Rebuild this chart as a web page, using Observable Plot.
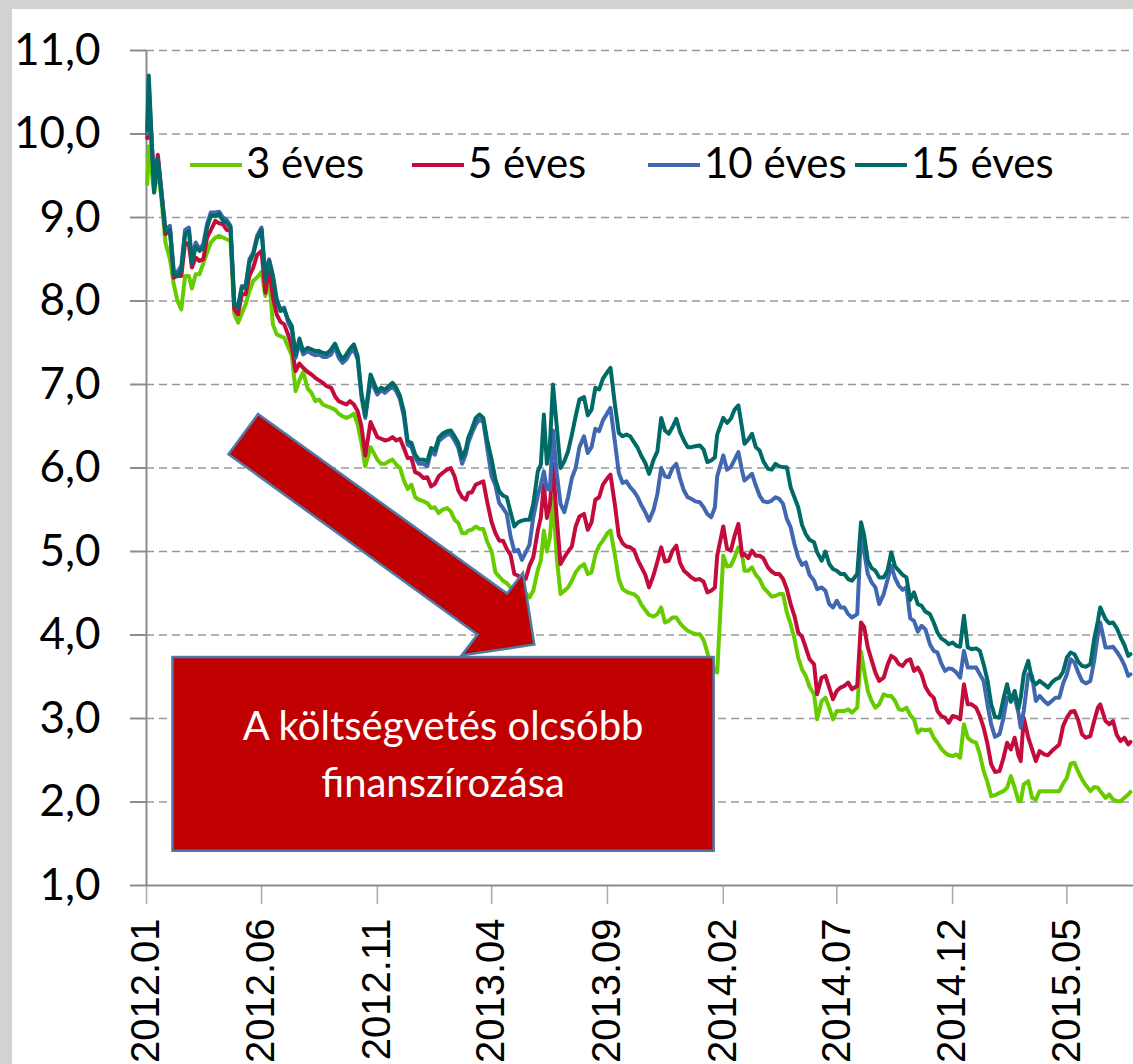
<!DOCTYPE html>
<html><head><meta charset="utf-8">
<script src="https://cdn.jsdelivr.net/npm/d3@7"></script>
<script src="https://cdn.jsdelivr.net/npm/@observablehq/plot@0.6"></script>
<style>
html,body{margin:0;padding:0;}
body{width:1133px;height:1064px;background:#d4d1d1;position:relative;overflow:hidden;}
#paper{position:absolute;left:12px;top:9px;right:0;bottom:0;background:#fff;}
#chart{position:absolute;left:0;top:0;}
</style></head><body>
<div id="paper"></div>
<div id="chart"></div>
<script>
// main sampling (1st, 11th, 21st of each month + turning points)
const dates = ["2012-01-02","2012-01-04","2012-01-11","2012-01-16","2012-01-21","2012-02-01","2012-02-11","2012-02-21","2012-03-01","2012-03-11","2012-03-21","2012-04-01","2012-04-11","2012-04-21","2012-04-26","2012-05-01","2012-05-11","2012-05-21","2012-06-01","2012-06-11","2012-06-21","2012-07-01","2012-07-11","2012-07-21","2012-08-01","2012-08-11","2012-08-21","2012-09-01","2012-09-11","2012-09-21","2012-10-01","2012-10-11","2012-10-16","2012-10-23","2012-11-01","2012-11-11","2012-11-21","2012-12-01","2012-12-11","2012-12-21",
"2013-01-01","2013-01-11","2013-01-21","2013-02-01","2013-02-11","2013-02-21","2013-03-01","2013-03-11","2013-03-21","2013-04-01","2013-04-11","2013-04-21","2013-05-01","2013-05-11","2013-05-21","2013-06-01","2013-06-09","2013-06-13","2013-06-21","2013-07-01","2013-07-11","2013-07-21","2013-08-01","2013-08-11","2013-08-21","2013-09-01","2013-09-05","2013-09-11","2013-09-21","2013-10-01","2013-10-11","2013-10-21","2013-11-01","2013-11-11","2013-11-21","2013-12-01","2013-12-11","2013-12-21",
"2014-01-01","2014-01-11","2014-01-21","2014-01-24","2014-02-01","2014-02-11","2014-02-21","2014-03-01","2014-03-11","2014-03-21","2014-04-01","2014-04-11","2014-04-21","2014-05-01","2014-05-11","2014-05-21","2014-06-01","2014-06-05","2014-06-11","2014-06-21","2014-07-01","2014-07-11","2014-07-21","2014-07-28","2014-08-02","2014-08-11","2014-08-21","2014-09-01","2014-09-11","2014-09-21","2014-10-01","2014-10-11","2014-10-21","2014-11-01","2014-11-11","2014-11-21","2014-12-01","2014-12-11","2014-12-16","2014-12-21",
"2015-01-01","2015-01-11","2015-01-21","2015-02-01","2015-02-11","2015-02-21","2015-03-01","2015-03-05","2015-03-11","2015-03-21","2015-04-01","2015-04-11","2015-04-21","2015-05-01","2015-05-11","2015-05-21","2015-06-01","2015-06-11","2015-06-14","2015-06-21","2015-07-01","2015-07-11","2015-07-21","2015-07-24"];

const y3 = [9.4,9.85,9.3,9.6,9.2,8.5,8.0,8.3,8.15,8.32,
8.58,8.76,8.76,8.72,7.85,7.74,7.96,8.24,8.35,8.28,
7.6,7.56,7.35,7.05,6.95,6.8,6.76,6.72,6.65,6.6,
6.65,6.3,6.02,6.25,6.1,6.05,6.1,6.0,5.75,5.65,
5.6,5.52,5.46,5.52,5.38,5.22,5.25,5.3,5.27,5.0,
4.7,4.62,4.55,4.5,4.45,4.78,5.25,5.0,5.65,4.49,
4.57,4.75,4.85,4.75,5.07,5.22,5.25,4.95,4.55,4.5,
4.45,4.3,4.22,4.33,4.17,4.21,4.09,4.03,4.01,3.79,
3.6,3.55,4.95,4.83,5.05,4.77,4.81,4.67,4.51,4.47,
4.49,4.13,3.73,3.51,3.29,2.99,3.21,3.13,3.09,3.09,
3.07,3.13,3.8,3.33,3.13,3.29,3.27,3.11,3.13,2.99,
2.87,2.87,2.71,2.59,2.55,2.53,2.93,2.77,2.71,2.37,
2.07,2.11,2.17,2.17,2.01,2.21,2.25,2.03,2.13,2.13,
2.13,2.29,2.47,2.27,2.13,2.17,2.13,2.05,2.03,2.01,2.09,2.12];

const y5 = [9.95,10.4,9.45,9.75,9.3,8.85,8.3,8.7,8.4,8.48,
8.76,8.96,8.92,8.85,7.9,7.84,8.08,8.4,8.6,8.4,
7.84,7.72,7.45,7.25,7.15,7.08,7.02,6.96,6.8,6.76,
6.76,6.5,6.15,6.55,6.37,6.33,6.37,6.35,6.12,5.95,
5.88,5.78,5.9,5.98,5.9,5.65,5.7,5.8,5.84,5.35,
5.13,5.03,4.73,4.66,4.83,5.25,5.8,5.4,6.05,4.85,
5.0,5.3,5.45,5.35,5.65,5.88,5.92,5.55,5.1,5.05,
4.9,4.72,4.72,5.05,4.89,5.07,4.77,4.69,4.67,4.51,
4.57,4.95,5.3,5.01,5.33,4.97,5.01,4.95,4.81,4.73,
4.67,4.37,4.03,3.85,3.65,3.29,3.49,3.37,3.33,3.39,
3.35,3.39,4.15,3.85,3.55,3.49,3.75,3.65,3.69,3.57,
3.53,3.29,3.09,3.01,3.03,2.99,3.41,3.17,3.13,2.89,
2.45,2.37,2.71,2.77,2.49,3.01,2.77,2.49,2.57,2.61,
2.69,3.01,3.09,2.81,2.79,3.13,3.17,2.97,2.97,2.73,2.69,2.72];

const y10 = [10.0,10.6,9.35,9.7,9.28,8.9,8.35,8.85,8.5,8.62,
8.92,9.06,9.0,8.9,7.98,7.94,8.18,8.58,8.88,8.5,
8.02,7.92,7.65,7.5,7.4,7.35,7.33,7.36,7.32,7.3,
7.42,6.85,6.6,7.05,6.88,6.9,6.98,6.82,6.28,6.12,
6.05,6.2,6.32,6.4,6.33,6.05,6.3,6.52,6.55,5.9,
5.58,5.45,5.0,4.9,5.08,5.67,5.96,5.75,6.45,5.57,
5.65,6.0,6.38,6.25,6.44,6.66,6.72,6.3,5.82,5.77,
5.65,5.47,5.5,6.0,5.89,6.05,5.73,5.63,5.59,5.45,
5.53,5.9,6.15,6.01,6.19,5.85,5.93,5.67,5.59,5.65,
5.57,5.29,4.93,4.87,4.65,4.55,4.57,4.37,4.41,4.33,
4.21,4.25,5.2,4.73,4.57,4.49,4.83,4.59,4.57,4.17,
4.11,3.89,3.79,3.57,3.59,3.49,3.81,3.61,3.61,3.45,
2.93,2.81,3.25,3.25,2.89,3.09,3.53,3.21,3.21,3.21,
3.25,3.53,3.67,3.45,3.45,4.01,4.15,3.85,3.86,3.73,3.51,3.53];

const y15 = [10.05,10.7,9.3,9.7,9.25,8.85,8.3,8.8,8.45,8.6,
8.88,9.02,8.96,8.88,7.95,7.92,8.16,8.56,8.85,8.48,
8.0,7.9,7.7,7.55,7.44,7.4,7.38,7.42,7.38,7.36,
7.48,6.9,6.63,7.12,6.92,6.94,7.02,6.86,6.32,6.16,
6.1,6.24,6.36,6.44,6.38,6.12,6.36,6.6,6.6,6.1,
5.72,5.65,5.3,5.37,5.38,5.96,6.64,6.05,7.0,6.0,
6.2,6.62,6.85,6.7,6.94,7.15,7.2,6.75,6.38,6.38,
6.24,6.06,6.1,6.6,6.41,6.59,6.33,6.25,6.27,6.07,
6.13,6.4,6.6,6.59,6.75,6.29,6.41,6.21,5.99,6.05,
6.01,5.77,5.53,5.21,5.11,4.99,4.89,4.85,4.77,4.73,
4.65,4.73,5.35,4.89,4.77,4.69,4.99,4.77,4.69,4.51,
4.35,4.25,4.03,3.93,3.91,3.86,4.23,3.85,3.84,3.65,
3.17,3.01,3.41,3.33,3.25,3.53,3.69,3.41,3.41,3.43,
3.49,3.73,3.77,3.63,3.65,4.17,4.33,4.19,4.15,3.97,3.75,3.77];

// extra readings in between (6th, 16th, 26th)
const extraDates = ["2012-01-26","2012-02-06","2012-02-16","2012-02-26","2012-03-06","2012-03-16","2012-03-26","2012-04-06","2012-04-16","2012-05-06","2012-05-16","2012-05-26","2012-06-06","2012-06-16","2012-06-26","2012-07-06","2012-07-16","2012-07-26","2012-08-06","2012-08-16","2012-08-26","2012-09-06","2012-09-16","2012-09-26","2012-10-06","2012-11-06","2012-11-16","2012-11-26",
"2012-12-06","2012-12-16","2012-12-26","2013-01-06","2013-01-16","2013-01-26","2013-02-06","2013-02-16","2013-02-26","2013-03-06","2013-03-16","2013-03-26","2013-04-06","2013-04-16","2013-04-26","2013-05-06","2013-05-16","2013-05-26","2013-06-05","2013-06-17","2013-06-26","2013-07-06","2013-07-16","2013-07-26","2013-08-06","2013-08-16","2013-08-26","2013-09-16","2013-09-26","2013-10-06","2013-10-16",
"2013-10-26","2013-11-06","2013-11-16","2013-11-26","2013-12-06","2013-12-16","2013-12-26","2014-01-06","2014-01-16","2014-02-06","2014-02-16","2014-02-26","2014-03-06","2014-03-16","2014-03-26","2014-04-06","2014-04-16","2014-04-26","2014-05-06","2014-05-16","2014-05-26","2014-06-16","2014-06-26","2014-07-06","2014-07-16","2014-08-06","2014-08-16","2014-08-26","2014-09-06",
"2014-09-16","2014-09-26","2014-10-06","2014-10-16","2014-10-26","2014-11-06","2014-11-16","2014-11-26","2014-12-06","2014-12-26","2015-01-06","2015-01-16","2015-01-26","2015-02-06","2015-02-16","2015-02-26","2015-03-16","2015-03-26","2015-04-06","2015-04-16","2015-04-26","2015-05-06","2015-05-16","2015-05-26","2015-06-06","2015-06-26","2015-07-06","2015-07-16"];

const y3Extra = [8.7,8.2,7.9,8.3,8.32,8.45,8.7,8.78,8.74,7.85,8.12,8.28,8.06,7.72,7.58,7.45,6.92,7.15,6.9,6.82,6.74,6.7,6.62,6.62,6.52,6.05,6.08,6.04,
5.85,5.8,5.62,5.58,5.53,5.5,5.48,5.34,5.22,5.26,5.27,5.12,4.75,4.65,4.57,4.5,4.5,4.53,4.89,5.17,4.93,4.53,4.65,4.81,4.73,4.96,5.13,4.67,4.52,4.49,4.36,
4.24,4.25,4.15,4.21,4.14,4.05,4.01,3.94,3.6,4.82,4.93,4.95,4.77,4.72,4.57,4.46,4.49,4.27,3.96,3.59,3.38,3.25,2.99,3.09,3.11,3.58,3.21,3.17,3.27,
3.21,3.1,3.04,2.83,2.86,2.77,2.64,2.56,2.57,2.73,2.57,2.24,2.08,2.13,2.31,2.01,2.05,2.13,2.13,2.13,2.22,2.46,2.36,2.2,2.18,2.09,2.01,2.05];

const y5Extra = [8.8,8.28,8.3,8.68,8.52,8.5,8.85,8.93,8.85,8.08,8.3,8.55,8.1,8.05,7.75,7.6,7.16,7.2,7.12,7.05,6.98,6.86,6.78,6.8,6.68,6.35,6.34,6.33,
6.24,6.12,5.93,5.89,5.81,5.94,6.0,5.73,5.62,5.71,5.82,5.6,5.22,5.13,4.96,4.71,4.67,4.93,5.41,5.56,5.4,4.93,5.06,5.42,5.26,5.62,5.8,5.19,5.06,5.02,4.81,
4.57,4.88,4.88,5.01,4.86,4.73,4.66,4.64,4.53,5.03,5.19,4.95,4.92,4.95,4.92,4.76,4.73,4.55,4.23,3.98,3.71,3.51,3.23,3.37,3.43,4.1,3.7,3.45,3.64,
3.72,3.63,3.71,3.61,3.38,3.25,3.03,2.95,3.02,3.17,3.03,2.7,2.36,2.52,2.63,2.56,2.63,2.61,2.56,2.65,2.91,3.08,2.98,2.77,2.97,2.93,2.8,2.77];

const y10Extra = [8.86,8.36,8.42,8.88,8.7,8.68,9.06,9.07,8.97,8.18,8.5,8.78,8.3,8.31,7.9,7.75,7.32,7.36,7.37,7.36,7.33,7.45,7.26,7.38,7.3,6.93,6.94,6.92,
6.62,6.25,6.05,6.02,6.16,6.36,6.4,6.24,6.17,6.42,6.58,6.25,5.79,5.52,5.18,5.02,4.99,5.41,5.8,5.74,5.94,5.47,5.88,6.25,6.18,6.47,6.57,5.94,5.84,5.72,5.55,
5.37,5.69,5.9,6.0,5.87,5.65,5.6,5.53,5.41,5.98,6.1,5.96,5.89,5.79,5.6,5.61,5.63,5.39,5.09,4.84,4.72,4.53,4.33,4.33,4.25,5.0,4.63,4.37,4.66,
4.68,4.54,4.2,4.04,4.07,3.81,3.66,3.6,3.55,3.61,3.53,3.17,2.78,3.0,3.22,3.07,3.51,3.27,3.17,3.25,3.42,3.71,3.55,3.42,3.69,3.85,3.8,3.64];

const y15Extra = [8.84,8.32,8.37,8.84,8.65,8.64,9.02,9.04,8.94,8.16,8.46,8.74,8.26,8.29,7.88,7.78,7.35,7.4,7.42,7.4,7.37,7.49,7.3,7.43,7.34,6.96,6.98,6.96,
6.68,6.3,6.1,6.08,6.21,6.41,6.45,6.3,6.23,6.47,6.64,6.34,5.86,5.67,5.47,5.35,5.38,5.57,6.04,6.28,6.5,6.08,6.4,6.82,6.63,6.96,7.07,6.42,6.4,6.31,6.14,
5.93,6.2,6.45,6.49,6.43,6.25,6.26,6.22,6.09,6.54,6.7,6.47,6.34,6.25,6.08,5.98,6.02,6.01,5.65,5.32,5.14,5.0,4.79,4.73,4.67,5.2,4.8,4.69,4.77,
4.82,4.72,4.42,4.37,4.28,4.15,3.96,3.89,3.87,3.83,3.81,3.46,3.02,3.23,3.2,3.12,3.46,3.45,3.37,3.47,3.56,3.79,3.68,3.62,3.95,4.14,4.08,3.88];

const seriesNames = ["3 éves", "5 éves", "10 éves", "15 éves"];
const seriesColors = ["#66cc00", "#c40c3c", "#4167b1", "#006a66"];
const xTickDates = ["2012-01-01","2012-06-01","2012-11-01","2013-04-01","2013-09-01","2014-02-01","2014-07-01","2014-12-01","2015-05-01"];
const yTicks = [1,2,3,4,5,6,7,8,9,10,11];
const xDomain = ["2012-01-01","2015-07-28"];

// annotation (data coordinates)
const arrowDates = ["2012-05-28","2012-04-19","2013-03-14","2013-02-21","2013-05-28","2013-05-13","2013-04-22"];
const arrowValues = [6.64,6.16,4.0,3.75,3.88,4.74,4.49];
const boxDates = ["2012-02-05","2014-01-20"];
const boxValues = [3.73,1.41];
const boxLines = ["A költségvetés olcsóbb","finanszírozása"];

const parse = d3.utcParse("%Y-%m-%d");
const seriesValues = [y3, y5, y10, y15];
const seriesExtra = [y3Extra, y5Extra, y10Extra, y15Extra];
const rows = [];
seriesNames.forEach((name, i) => {
  dates.forEach((d, j) => rows.push({date: parse(d), value: seriesValues[i][j], series: name, k: i}));
  extraDates.forEach((d, j) => rows.push({date: parse(d), value: seriesExtra[i][j], series: name, k: i}));
});
rows.sort((a, b) => a.k - b.k || a.date - b.date);

const chart = Plot.plot({
  width: 1133, height: 1064,
  marginLeft: 146, marginRight: 0, marginTop: 50, marginBottom: 179,
  style: {background: "transparent", overflow: "visible"},
  x: {type: "utc", domain: xDomain.map(parse), label: null},
  y: {domain: [1, 11], label: null},
  color: {domain: seriesNames, range: seriesColors},
  marks: [
    Plot.gridY(yTicks.slice(1), {stroke: "#999", strokeOpacity: 1, strokeWidth: 1.5, strokeDasharray: "8,5"}),
    Plot.axisY(yTicks, {tickSize: 16, tickPadding: 30, fontSize: 44, fontFamily: "Lato", fill: "#000",
      stroke: "#8c8c8c", strokeWidth: 2, tickFormat: d => d.toFixed(1).replace(".", ","), label: null}),
    Plot.axisX(xTickDates.map(parse), {tickSize: 19, tickPadding: 14, tickRotate: -90, fontSize: 40,
      fontFamily: "Liberation Sans, Arial", fill: "#000", stroke: "#aaa", strokeWidth: 1.5,
      tickFormat: d3.utcFormat("%Y.%m"), label: null}),
    Plot.ruleY([1], {stroke: "#8c8c8c", strokeWidth: 2}),
    Plot.ruleX([parse(xDomain[0])], {y1: 1, y2: 11, stroke: "#8c8c8c", strokeWidth: 2}),
    Plot.line(rows, {x: "date", y: "value", z: "series", stroke: "series", strokeWidth: 4, strokeLinejoin: "round"})
  ]
});
document.getElementById("chart").appendChild(chart);

// annotation + legend drawn with the plot's scales
const xs = chart.scale("x"), ys = chart.scale("y");
const px = d => xs.apply(parse(d)), py = v => ys.apply(v);
const svg = d3.select(chart);
const ann = svg.append("g");
ann.append("path")
  .attr("d", "M" + arrowDates.map((d, i) => px(d) + "," + py(arrowValues[i])).join("L") + "Z")
  .attr("fill", "#c00000").attr("stroke", "#4f79a6").attr("stroke-width", 2.5);
const bx0 = px(boxDates[0]), bx1 = px(boxDates[1]), by0 = py(boxValues[0]), by1 = py(boxValues[1]);
ann.append("rect").attr("x", bx0).attr("y", by0).attr("width", bx1 - bx0).attr("height", by1 - by0)
  .attr("fill", "#c00000").attr("stroke", "#4f79a6").attr("stroke-width", 2.5);
const cx = (bx0 + bx1) / 2, cy = (by0 + by1) / 2;
const t = ann.append("text").attr("text-anchor", "middle").attr("fill", "#fff")
  .attr("font-family", "Lato").attr("font-size", 40);
t.append("tspan").attr("x", cx).attr("y", cy - 14).text(boxLines[0]);
t.append("tspan").attr("x", cx).attr("y", cy + 43).text(boxLines[1]);

const legendX = [190, 412, 648, 855];
const lg = svg.append("g").attr("text-anchor", "start");
seriesNames.forEach((name, i) => {
  lg.append("line").attr("x1", legendX[i]).attr("x2", legendX[i] + 52).attr("y1", 165).attr("y2", 165)
    .attr("stroke", seriesColors[i]).attr("stroke-width", 4);
  lg.append("text").attr("x", legendX[i] + 56).attr("y", 178).attr("font-family", "Lato")
    .attr("font-size", 42).attr("fill", "#000").attr("text-anchor", "start").text(name);
});
</script>
</body></html>
